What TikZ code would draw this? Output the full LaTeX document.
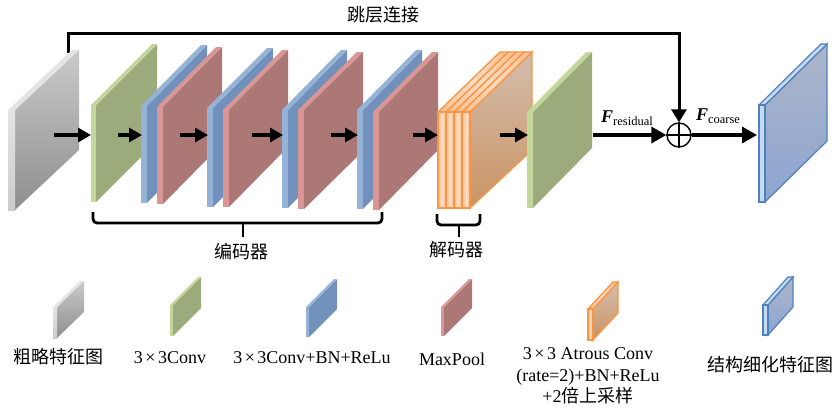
\documentclass[tikz,border=0pt]{standalone}
\usepackage{fontspec}
\setmainfont{Liberation Serif}
\newfontfamily\cjk{Noto Sans CJK SC}
\usetikzlibrary{arrows.meta}
\definecolor{gF}{HTML}{9BAB7B}
\definecolor{gS}{HTML}{C3D69B}
\definecolor{bF}{HTML}{7191BC}
\definecolor{bS}{HTML}{95B3D7}
\definecolor{pF}{HTML}{AC7876}
\definecolor{pS}{HTML}{D99694}
\definecolor{grT}{HTML}{CACACA}
\definecolor{grB}{HTML}{8E8E8E}
\definecolor{grS}{HTML}{E4E4E4}
\definecolor{oL}{HTML}{F79646}
\definecolor{oS}{HTML}{F9BD8C}
\definecolor{oH}{HTML}{FCDDC2}
\definecolor{oT}{HTML}{D4BDAD}
\definecolor{oB}{HTML}{CA9463}
\definecolor{uL}{HTML}{4F81BD}
\definecolor{uS}{HTML}{C6D9F1}
\definecolor{uT}{HTML}{ADB6C9}
\definecolor{uB}{HTML}{8CA5D2}
\newcommand\slab[9]{%
  \path[#7] ({#1+#4},#2) -- ++(#5,-#6) -- ({#1+#4+#5},{#3-#6}) -- ({#1+#4},#3) -- cycle;
  \path[#9] (#1,#2) -- ({#1+#4},#2) -- ++(#5,-#6) -- ++(-#4,0) -- cycle;
  \path[#8] (#1,#2) rectangle ({#1+#4},#3);}
\newcommand\mytimes{\kern2.5pt×\kern2.5pt}
\begin{document}
\begin{tikzpicture}[x=1pt,y=-1pt,
  every node/.style={font=\fontsize{18}{21.5}\selectfont, inner sep=0pt},
  arr/.style={line width=3.2pt, -{Triangle[length=13pt,width=14pt]}},
  bigarr/.style={line width=3.4pt, -{Triangle[length=15pt,width=16pt]}},
  skip/.style={line width=3pt, -{Triangle[length=13pt,width=15pt]}},
  brace/.style={line width=2.8pt, rounded corners=4pt},
  orface/.style={draw=oL, line width=1.3pt, top color=oT, bottom color=oB},
  orstrip/.style={draw=oL, line width=1.3pt, left color=oS, right color=oS, middle color=oH},
  outface/.style={draw=uL, line width=1.2pt, top color=uT, bottom color=uB},
  outstrip/.style={draw=uL, line width=1.2pt, fill=uS}]
\useasboundingbox (0,0) rectangle (838,413);
\fill[white] (0,0) rectangle (838,413);

% skip connection
\coordinate (skipS) at (68,53);
\coordinate (skipT) at (68,33);
\node[circle, draw, line width=1.4pt, minimum size=24pt] (sum) at (679,135) {};
\draw[line width=1.4pt] (sum.north) -- (sum.south) (sum.west) -- (sum.east);
\draw[skip] (skipS) -- (skipT) -| (sum.north);
\node (skiplbl) at (383,15) {\cjk 跳层连接};

% main slabs
\slab{8}{110}{210}{7}{64}{60}{top color=grT, bottom color=grB}{top color=grS, bottom color=grT}{fill=grS}
\slab{91}{105}{202}{5}{61}{61}{fill=gF}{fill=gS}{fill=gS}
\slab{141}{106}{203}{6}{60}{61}{fill=bF}{fill=bS}{fill=bS}
\slab{157}{107}{204}{6}{59}{60}{fill=pF}{fill=pS}{fill=pS}
\slab{207}{108}{207}{6}{60}{60}{fill=bF}{fill=bS}{fill=bS}
\slab{223}{110}{207}{6}{59}{60}{fill=pF}{fill=pS}{fill=pS}
\slab{282}{110}{208}{6}{59}{60}{fill=bF}{fill=bS}{fill=bS}
\slab{298}{110}{209}{6}{59}{58}{fill=pF}{fill=pS}{fill=pS}
\slab{357}{110}{209}{6}{59}{60}{fill=bF}{fill=bS}{fill=bS}
\slab{373}{112}{210}{6}{59}{60}{fill=pF}{fill=pS}{fill=pS}

% decoder block (4 stacked atrous slabs)
\path[orface] (470,112) -- ++(62,-60) -- (532,150) -- (470,208) -- cycle;
\foreach \xx in {462,454,446,438}{
  \path[orstrip] (\xx,112) -- ({\xx+8},112) -- ++(62,-60) -- ++(-8,0) -- cycle;
  \path[orstrip] (\xx,112) rectangle ({\xx+8},208);
}

\slab{527}{112}{208}{6}{59}{60}{fill=gF}{fill=gS}{fill=gS}

% output slab
\slab{759}{105}{202}{6}{62}{61}{outface}{outstrip}{outstrip}

% small arrows
\coordinate (a1s) at (54,135);  \coordinate (a1e) at (91,135);
\coordinate (a2s) at (118,135); \coordinate (a2e) at (142,135);
\coordinate (a3s) at (180,135); \coordinate (a3e) at (208,135);
\coordinate (a4s) at (252,135); \coordinate (a4e) at (283,135);
\coordinate (a5s) at (331,135); \coordinate (a5e) at (358,135);
\coordinate (a6s) at (413,135); \coordinate (a6e) at (438,135);
\coordinate (a7s) at (500,135); \coordinate (a7e) at (528,135);
\foreach \i in {1,...,7}{\draw[arr] (a\i s) -- (a\i e);}

\coordinate (resS) at (593,135);
\coordinate (outE) at (757,135);
\draw[bigarr] (resS) -- (sum.west);
\draw[bigarr] (sum.east) -- (outE);
\node (fres) at (627,118) {\bfseries\itshape F\raisebox{-3pt}{\normalfont\fontsize{12.5}{13}\selectfont residual}};
\node (fcoa) at (718,116) {\bfseries\itshape F\raisebox{-3pt}{\normalfont\fontsize{12.5}{13}\selectfont coarse}};

% brackets
\draw[brace] (93,212) -- (93,223) -- (382,223) -- (382,212);
\draw[line width=2.8pt] (243,222) -- (243,237);
\node (enc) at (241,252) {\cjk 编码器};
\draw[brace] (437,214) -- (437,225) -- (480,225) -- (480,214);
\draw[line width=2.8pt] (459,224) -- (459,237);
\node (dec) at (456,250) {\cjk 解码器};

% legend
\slab{53}{307}{338}{4}{27}{26}{top color=grT, bottom color=grB}{top color=grS, bottom color=grT}{fill=grS}
\node (l1) at (58,357) {\cjk 粗略特征图};
\slab{170}{305}{336}{3}{28}{28}{fill=gF}{fill=gS}{fill=gS}
\node (l2) at (170,358) {3\mytimes 3Conv};
\slab{306}{307}{337}{3}{28}{28}{fill=bF}{fill=bS}{fill=bS}
\node (l3) at (312,358) {3\mytimes 3Conv+BN+ReLu};
\slab{441}{307}{336}{3}{28}{28}{fill=pF}{fill=pS}{fill=pS}
\node (l4) at (452,359) {MaxPool};
\slab{588}{309}{340}{5}{25}{27}{orface}{orstrip}{orstrip}
\node[align=center] (l5) at (588,376) {3\mytimes 3 Atrous Conv\\(rate=2)+BN+ReLu\\+2{\cjk 倍上采样}};
\slab{763}{305}{335}{5}{25}{28}{outface}{outstrip}{outstrip}
\node (l6) at (770,365) {\cjk 结构细化特征图};
\end{tikzpicture}
\end{document}
